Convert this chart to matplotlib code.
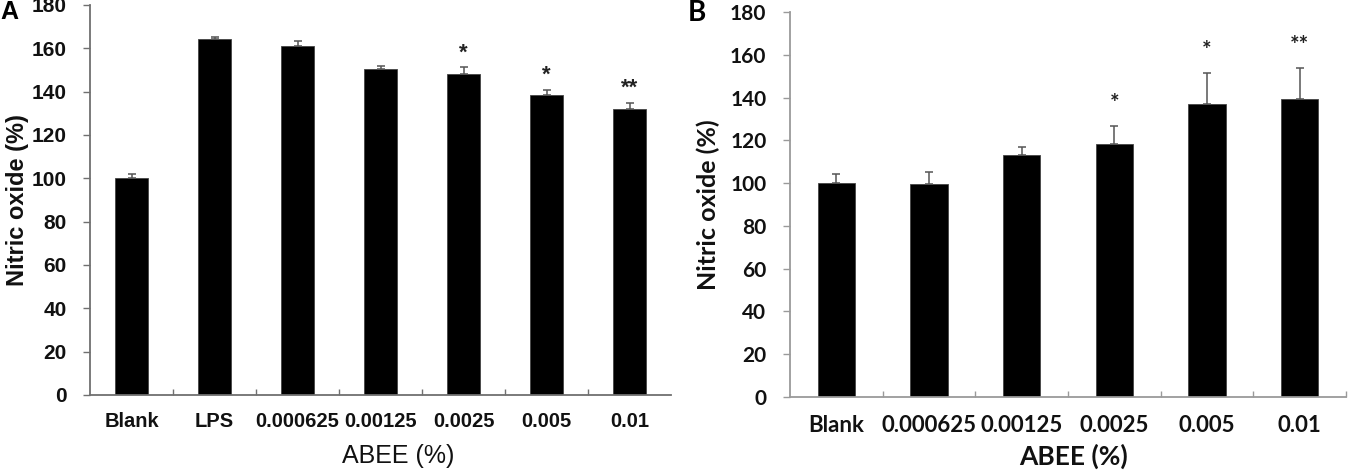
import matplotlib
matplotlib.use("Agg")
import matplotlib.pyplot as plt
import numpy as np
from matplotlib.ticker import FixedLocator, NullFormatter

# ---- Data ----
cats_a = ["Blank", "LPS", "0.000625", "0.00125", "0.0025", "0.005", "0.01"]
vals_a = [100.0, 164.3, 160.9, 150.6, 148.1, 138.4, 132.1]
err_a = [1.8, 0.8, 2.7, 1.4, 3.1, 2.5, 2.8]
sig_a = ["", "", "", "", "*", "*", "**"]

cats_b = ["Blank", "0.000625", "0.00125", "0.0025", "0.005", "0.01"]
vals_b = [99.9, 99.5, 113.2, 118.1, 136.9, 139.4]
err_b = [4.3, 5.8, 3.6, 8.5, 14.4, 14.5]
sig_b = ["", "", "", "*", "*", "**"]

yticks = [0, 20, 40, 60, 80, 100, 120, 140, 160, 180]

FONT_A = ["Liberation Sans", "DejaVu Sans"]
FONT_B = ["Lato", "DejaVu Sans"]

fig = plt.figure(figsize=(13.55, 4.74), dpi=100)
axA = fig.add_axes([90 / 1355, 1 - 395 / 474, 581 / 1355, 390 / 474])
axB = fig.add_axes([790 / 1355, 1 - 397 / 474, 556 / 1355, 385 / 474])


def panel(ax, cats, vals, errs, sigs, font, spine_col, star_off, end_tick,
          ytick_fs, xtick_fs, ylab_fs, xlab_fs, xlab_weight, tick_pad_x):
    x = np.arange(len(cats))
    ax.bar(x, vals, width=0.4, color="black", edgecolor="#444444",
           linewidth=0.6, zorder=2)
    ax.errorbar(x, vals, yerr=[np.zeros(len(errs)), errs], fmt="none",
                ecolor="#555555", elinewidth=1.1, capsize=3, capthick=1.1,
                zorder=3)
    for xi, v, e, s in zip(x, vals, errs, sigs):
        if s:
            ax.text(xi, v + e + star_off, s, ha="center", va="center",
                    fontsize=16, fontweight="bold", family=font,
                    color="#222222")
    ax.set_xlim(-0.5, len(cats) - 0.5)
    ax.set_ylim(0, 180)
    ax.set_yticks(yticks)
    ax.set_yticklabels([str(t) for t in yticks], fontsize=ytick_fs,
                       fontweight="bold", family=font, color="#111111")
    ax.set_xticks(x)
    ax.set_xticklabels(cats, fontsize=xtick_fs, fontweight="bold",
                       family=font, color="#111111")
    n_minor = len(cats) if end_tick else len(cats) - 1
    ax.xaxis.set_minor_locator(FixedLocator([i + 0.5 for i in range(n_minor)]))
    ax.xaxis.set_minor_formatter(NullFormatter())
    ax.tick_params(axis="x", which="major", length=0, pad=tick_pad_x)
    ax.tick_params(axis="x", which="minor", length=4, width=1.0,
                   color=spine_col, direction="in")
    ax.tick_params(axis="y", length=5, width=1.0, color=spine_col,
                   direction="out", pad=12)
    for side in ["top", "right"]:
        ax.spines[side].set_visible(False)
    for side in ["left", "bottom"]:
        ax.spines[side].set_color(spine_col)
        ax.spines[side].set_linewidth(1.3)
    ax.set_ylabel("Nitric oxide (%)", fontsize=ylab_fs, fontweight="bold",
                  family=font, color="#111111")
    ax.set_xlabel("ABEE (%)", fontsize=xlab_fs, fontweight=xlab_weight,
                  family=font, color="#111111")


panel(axA, cats_a, vals_a, err_a, sig_a, FONT_A, "#707070", 6.5, False,
      15, 14.5, 17, 18, "normal", 12)
panel(axB, cats_b, vals_b, err_b, sig_b, FONT_B, "#9a9a9a", 10.5, True,
      15, 16, 18, 19, "bold", 13)

axA.yaxis.set_label_coords(-0.105, 0.5)
axB.yaxis.set_label_coords(-0.125, 0.5)
axA.xaxis.set_label_coords(0.53, -0.125)
axB.xaxis.set_label_coords(0.51, -0.122)

fig.text(0.0, 0.975, "A", fontsize=18, fontweight="bold", family=FONT_A,
         ha="left", va="center")
fig.text(688 / 1355, 0.972, "B", fontsize=20, fontweight="bold", family=FONT_B,
         ha="left", va="center")

fig.savefig("out.png", dpi=100)
